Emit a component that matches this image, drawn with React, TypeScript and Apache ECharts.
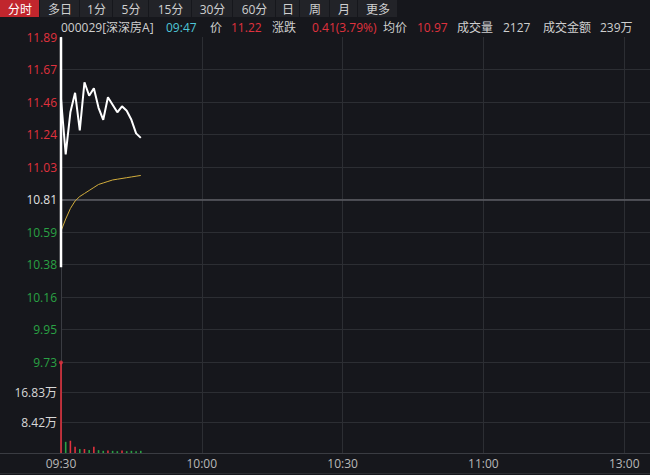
import React, { useEffect, useRef } from "react";
import * as echarts from "echarts";

// ---------------- data ----------------
const PREV_CLOSE = 10.81;
const TIMES = [
  "09:30", "09:31", "09:32", "09:33", "09:34", "09:35", "09:36", "09:37", "09:38",
  "09:39", "09:40", "09:41", "09:42", "09:43", "09:44", "09:45", "09:46", "09:47",
];
const OPEN_SPIKE = [10.36, 11.89];
const PRICE = [
  11.48, 11.11, 11.39, 11.52, 11.27, 11.59, 11.5, 11.55, 11.42,
  11.34, 11.49, 11.44, 11.39, 11.43, 11.4, 11.34, 11.25, 11.22,
];
const AVG_PRICE = [
  10.6, 10.68, 10.75, 10.8, 10.83, 10.85, 10.87, 10.89, 10.91,
  10.92, 10.93, 10.94, 10.945, 10.95, 10.955, 10.96, 10.965, 10.97,
];
// volume in 万
const VOLUME = [
  25.1, 3.1, 3.4, 1.7, 1.1, 1.1, 0.8, 1.7, 0.8,
  0.6, 0.7, 0.6, 0.5, 0.7, 0.5, 0.6, 0.5, 0.6,
];
const VOL_MAX = 25.25;
const X_TICK_LABELS = ["09:30", "10:00", "10:30", "11:00", "13:00"];
const TABS = ["分时", "多日", "1分", "5分", "15分", "30分", "60分", "日", "周", "月", "更多"];
const HEADER_TEXTS = [
  "000029[深深房A]", "09:47", "价", "11.22", "涨跌", "0.41(3.79%)",
  "均价", "10.97", "成交量", "2127", "成交金额", "239万",
];

// ---------------- styles / layout ----------------
const BG = "#16171c";
const GRID = "#2c2e33";
const RED = "#e0323e";
const GREEN = "#2aa244";
const TXT = "#cfcfcf";
const CYAN = "#4ec6d8";
const FONT = "'Microsoft YaHei', 'Open Sans', 'Noto Sans CJK SC', sans-serif";
const TAB_EDGES = [0, 40, 80, 113, 149, 192, 233, 276, 300, 330, 358, 398];
const HEADER_X = [61, 166, 210, 231, 272, 312, 383, 417, 457, 503, 543, 600];
const HEADER_COLORS = [TXT, CYAN, TXT, RED, TXT, RED, TXT, RED, TXT, TXT, TXT, TXT];

const toMin = (t: string) => {
  const [h, m] = t.split(":").map(Number);
  const mins = h * 60 + m;
  if (h >= 13) return 120 + (mins - 13 * 60);
  return mins - (9 * 60 + 30);
};
const pct = (p: number) => ((p - PREV_CLOSE) / PREV_CLOSE) * 100;

function buildOption() {
  const x0 = toMin(TIMES[0]);
  const spikeData = [[x0, pct(OPEN_SPIKE[0])], [x0, pct(OPEN_SPIKE[1])]];
  const priceData: number[][] = [[x0, pct(OPEN_SPIKE[1])]];
  TIMES.forEach((t, i) => priceData.push([toMin(t), pct(PRICE[i])]));
  const avgData = TIMES.map((t, i) => [toMin(t), pct(AVG_PRICE[i])]);
  const volData = TIMES.map((t, i) => ({
    value: [toMin(t), VOLUME[i]],
    itemStyle: { color: i === 0 || PRICE[i] >= PRICE[i - 1] ? RED : GREEN },
  }));

  const graphic: any[] = [];
  TABS.forEach((label, i) => {
    const x = TAB_EDGES[i];
    const w = TAB_EDGES[i + 1] - x;
    graphic.push({
      type: "rect",
      shape: { x: x, y: 0, width: w - 1, height: 17 },
      style: { fill: i === 0 ? "#c1262d" : "#222328" },
      silent: true,
    });
    graphic.push({
      type: "text",
      x: x + w / 2,
      y: 9,
      style: {
        text: label,
        fill: i === 0 ? "#ffffff" : "#d0d0d0",
        font: `12px ${FONT}`,
        textAlign: "center",
        textVerticalAlign: "middle",
      },
      silent: true,
    });
  });
  HEADER_TEXTS.forEach((t, i) => {
    graphic.push({
      type: "text",
      x: HEADER_X[i],
      y: 27,
      style: {
        text: t,
        fill: HEADER_COLORS[i],
        font: `12px ${FONT}`,
        textAlign: "left",
        textVerticalAlign: "middle",
      },
      silent: true,
    });
  });
  graphic.push({
    type: "line",
    shape: { x1: 0, y1: 453.5, x2: 650, y2: 453.5 },
    style: { stroke: "#3a3c42", lineWidth: 1 },
    silent: true,
  });
  graphic.push({
    type: "line",
    shape: { x1: 0, y1: 473.5, x2: 650, y2: 473.5 },
    style: { stroke: "#2a2c31", lineWidth: 1 },
    silent: true,
  });

  const xMax = 125.5;
  const xBase = {
    type: "value",
    min: 0,
    max: xMax,
    interval: 30,
    axisLine: { show: false },
    axisTick: { show: false },
    splitLine: { show: true, lineStyle: { color: GRID, width: 1 } },
  };

  return {
    animation: false,
    backgroundColor: BG,
    textStyle: { fontFamily: FONT },
    graphic,
    grid: [
      { left: 61, right: 0, top: 37, height: 325 },
      { left: 61, right: 0, top: 362, height: 91 },
    ],
    xAxis: [
      { ...xBase, gridIndex: 0, axisLabel: { show: false } },
      {
        ...xBase,
        gridIndex: 1,
        axisLabel: {
          show: true,
          color: "#b8b8b8",
          fontSize: 12,
          margin: 4,
          showMaxLabel: false,
          formatter: (v: number) => X_TICK_LABELS[Math.round(v / 30)] ?? "",
        },
      },
    ],
    yAxis: [
      {
        type: "value",
        gridIndex: 0,
        min: -10,
        max: 10,
        interval: 2,
        axisLine: { show: true, lineStyle: { color: "#3a3c42" } },
        axisTick: { show: false },
        splitLine: {
          show: true,
          lineStyle: {
            color: [GRID, GRID, GRID, GRID, GRID, GRID, GRID, GRID, GRID, GRID, "rgba(0,0,0,0)"],
          },
        },
        axisLabel: {
          margin: 4,
          fontSize: 12,
          formatter: (v: number) => {
            const r = Math.round(v);
            const s = (PREV_CLOSE * (1 + r / 100)).toFixed(2);
            const k = r > 0 ? "u" : r < 0 ? "d" : "z";
            return `{${k}|${s}}`;
          },
          rich: {
            u: { color: RED, fontSize: 12, fontFamily: FONT },
            d: { color: GREEN, fontSize: 12, fontFamily: FONT },
            z: { color: "#e0e0e0", fontSize: 12, fontFamily: FONT },
          },
        },
      },
      {
        type: "value",
        gridIndex: 1,
        min: 0,
        max: VOL_MAX,
        interval: VOL_MAX / 3,
        axisLine: { show: true, lineStyle: { color: "#3a3c42" } },
        axisTick: { show: false },
        splitLine: {
          show: true,
          lineStyle: { color: ["rgba(0,0,0,0)", GRID, GRID, "rgba(0,0,0,0)"] },
        },
        axisLabel: {
          margin: 4,
          fontSize: 12,
          color: "#d8d8d8",
          formatter: (v: number) => (v < 0.01 || v > VOL_MAX - 0.01 ? "" : v.toFixed(2) + "万"),
        },
      },
    ],
    series: [
      {
        type: "line",
        xAxisIndex: 0,
        yAxisIndex: 0,
        data: avgData,
        showSymbol: false,
        lineStyle: { color: "#d2ad3c", width: 1 },
        z: 3,
        markLine: {
          silent: true,
          symbol: ["none", "none"],
          label: { show: false },
          lineStyle: { color: "#5c5e64", width: 1.5, type: "solid" },
          data: [{ yAxis: 0 }],
          z: 1,
        },
      },
      {
        type: "line",
        xAxisIndex: 0,
        yAxisIndex: 0,
        data: spikeData,
        showSymbol: false,
        lineStyle: { color: "#ffffff", width: 2.5 },
        z: 4,
      },
      {
        type: "line",
        xAxisIndex: 0,
        yAxisIndex: 0,
        data: priceData,
        showSymbol: false,
        lineStyle: { color: "#ffffff", width: 2 },
        z: 4,
      },
      {
        type: "bar",
        xAxisIndex: 1,
        yAxisIndex: 1,
        data: volData,
        barWidth: 1.6,
      },
      {
        type: "scatter",
        xAxisIndex: 1,
        yAxisIndex: 1,
        data: [[toMin(TIMES[0]), VOLUME[0]]],
        symbolSize: 4,
        itemStyle: { color: RED },
      },
    ],
  };
}

export default function App() {
  const ref = useRef<HTMLDivElement>(null);
  useEffect(() => {
    document.body.style.margin = "0";
    const chart = echarts.init(ref.current as HTMLDivElement, null, { renderer: "svg" });
    chart.setOption(buildOption() as any);
    return () => chart.dispose();
  }, []);
  return (
    <div
      ref={ref}
      style={{ position: "fixed", left: 0, top: 0, width: 650, height: 475, background: BG }}
    />
  );
}
